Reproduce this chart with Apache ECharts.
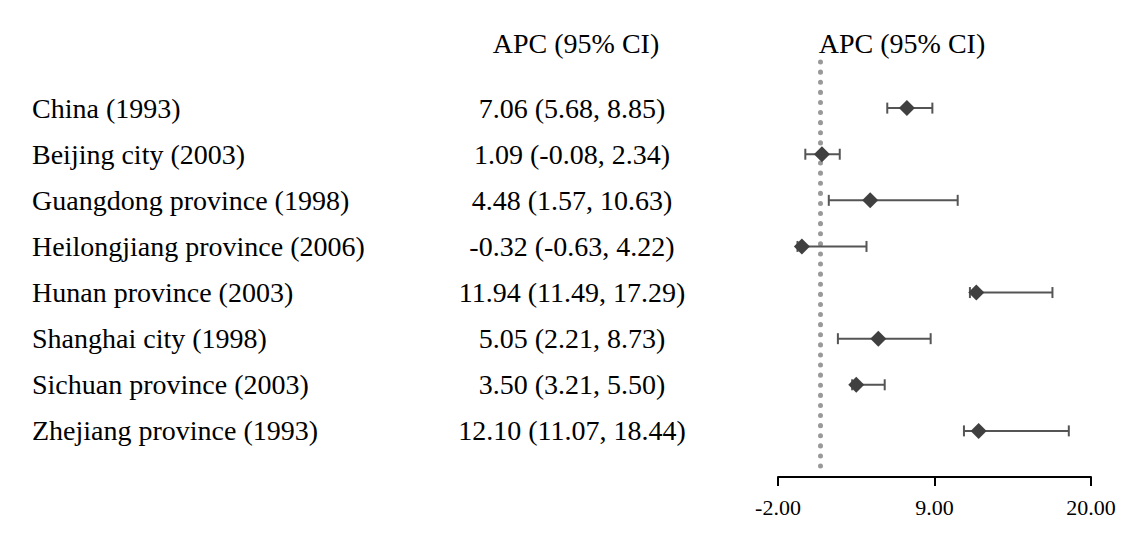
<!DOCTYPE html>
<html>
<head>
<meta charset="utf-8">
<script src="https://cdn.jsdelivr.net/npm/echarts@6/dist/echarts.min.js"></script>
<style>
  html, body { margin: 0; padding: 0; background: #fff; }
  #chart { width: 1129px; height: 537px; }
</style>
</head>
<body>
<div id="chart"></div>
<script>
// rows, top to bottom
var names = ['China (1993)', 'Beijing city (2003)', 'Guangdong province (1998)', 'Heilongjiang province (2006)',
  'Hunan province (2003)', 'Shanghai city (1998)', 'Sichuan province (2003)', 'Zhejiang province (1993)'];
var apc = [7.06, 1.09, 4.48, -0.32, 11.94, 5.05, 3.50, 12.10];
var lower = [5.68, -0.08, 1.57, -0.63, 11.49, 2.21, 3.21, 11.07];
var upper = [8.85, 2.34, 10.63, 4.22, 17.29, 8.73, 5.50, 18.44];
var xTicks = [-2, 9, 20];
var refLine = 1;

var serif = "'Liberation Serif', 'Times New Roman', serif";

var apcText = apc.map(function (v, i) {
  return v.toFixed(2) + ' (' + lower[i].toFixed(2) + ', ' + upper[i].toFixed(2) + ')';
});

var chart = echarts.init(document.getElementById('chart'), null, { renderer: 'svg' });

function rowAxis(labels, margin, align) {
  return {
    type: 'value',
    min: -1,
    max: 8,
    interval: 1,
    inverse: true,
    position: 'left',
    axisLine: { show: false },
    axisTick: { show: false },
    splitLine: { show: false },
    axisLabel: {
      margin: margin,
      align: align,
      fontFamily: serif,
      fontSize: 28,
      color: '#000',
      formatter: function (v) { return labels[v] || ''; }
    }
  };
}

var option = {
  animation: false,
  backgroundColor: '#fff',
  title: [
    { text: 'APC (95% CI)', left: 571, top: 24, textAlign: 'center',
      textStyle: { fontFamily: serif, fontSize: 28, fontWeight: 'normal', color: '#000' } },
    { text: 'APC (95% CI)', left: 897, top: 24, textAlign: 'center',
      textStyle: { fontFamily: serif, fontSize: 28, fontWeight: 'normal', color: '#000' } }
  ],
  grid: { left: 778, right: 38, top: 62, bottom: 60 },
  xAxis: {
    type: 'value',
    min: -2,
    max: 20,
    splitLine: { show: false },
    axisLine: { onZero: false, lineStyle: { color: '#000', width: 2 } },
    axisTick: { length: 9, customValues: xTicks, lineStyle: { color: '#000', width: 2 } },
    axisLabel: {
      customValues: xTicks,
      margin: 19,
      fontFamily: serif,
      fontSize: 22,
      color: '#000',
      formatter: function (v) { return v.toFixed(2); }
    }
  },
  yAxis: [rowAxis(names, 746, 'left'), rowAxis(apcText, 206, 'center')],
  series: [
    {
      // reference line
      type: 'line',
      data: [],
      z: 1,
      markLine: {
        silent: true,
        symbol: 'none',
        z: 1,
        label: { show: false },
        lineStyle: { color: '#999', width: 5, type: [0.1, 10], cap: 'round' },
        data: [[{ coord: [refLine, -1] }, { coord: [refLine, 7.88] }]]
      }
    },
    {
      type: 'custom',
      yAxisIndex: 0,
      data: apc.map(function (v, i) { return [i, lower[i], upper[i]]; }),
      renderItem: function (params, api) {
        var row = api.value(0);
        var a = api.coord([api.value(1), row]);
        var b = api.coord([api.value(2), row]);
        var cap = 5.5;
        var st = { stroke: '#555', lineWidth: 2 };
        return {
          type: 'group',
          children: [
            { type: 'line', shape: { x1: a[0], y1: a[1], x2: b[0], y2: b[1] }, style: st },
            { type: 'line', shape: { x1: a[0], y1: a[1] - cap, x2: a[0], y2: a[1] + cap }, style: st },
            { type: 'line', shape: { x1: b[0], y1: b[1] - cap, x2: b[0], y2: b[1] + cap }, style: st }
          ]
        };
      },
      z: 3
    },
    {
      type: 'scatter',
      yAxisIndex: 0,
      symbol: 'diamond',
      symbolSize: [16, 16],
      itemStyle: { color: '#404040', opacity: 1 },
      data: apc.map(function (v, i) { return [v, i]; }),
      z: 4
    }
  ]
};

chart.setOption(option);
</script>
</body>
</html>
